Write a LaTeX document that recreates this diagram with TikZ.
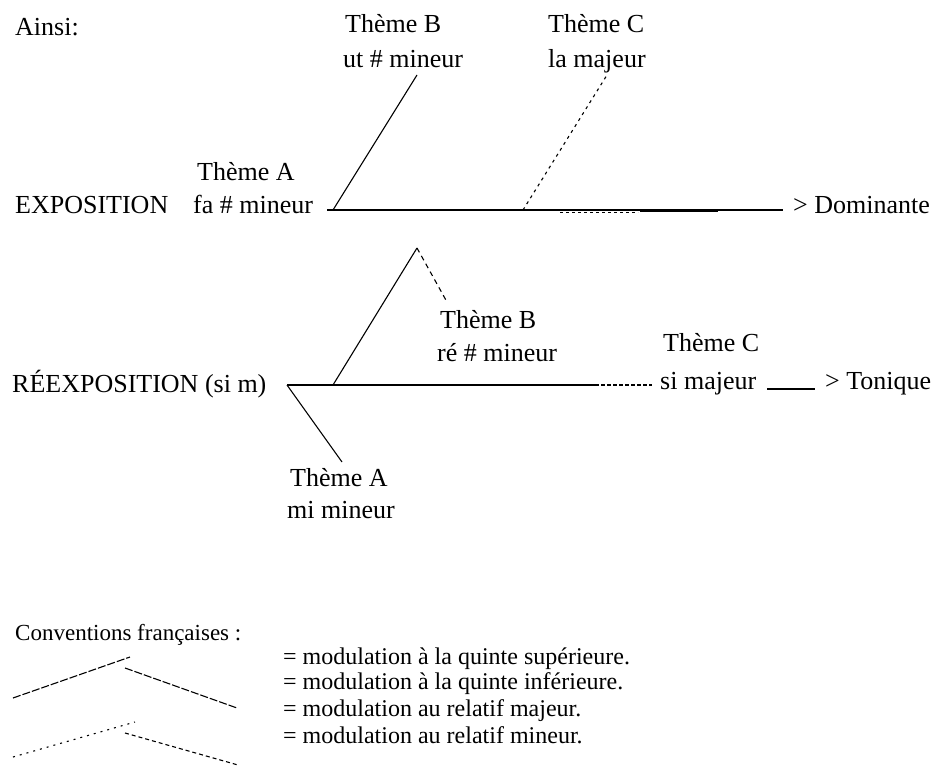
\documentclass[tikz,border=0pt]{standalone}
\usepackage{fontspec}
\setmainfont{Liberation Serif}
\usepackage{tikz}

\tikzset{
    lbl/.style={anchor=base west,inner sep=0pt},
    modline/.style={line width=1.1pt},
    relline/.style={line width=1.1pt,dash pattern=on 3pt off 4pt},
    legfont/.style={font=\fontsize{24}{26}\selectfont},
}

\begin{document}
\begin{tikzpicture}[x=1pt,y=-1pt,font=\fontsize{26}{30}\selectfont]
        \useasboundingbox (0,0) rectangle (935,776);
        % exposition
        \node (ainsi) at (15,36)[lbl]{Ainsi:};
        \node (expo) at (15,213)[lbl]{EXPOSITION};
        \node (themeA) at (197,180)[lbl]{Thème A};
        \node (faMin) at (193,213)[lbl]{fa \# mineur};
        \node (themeB) at (345,33)[lbl]{Thème B};
        \node (utMin) at (343,68)[lbl]{ut \# mineur};
        \node (themeC) at (548,33)[lbl]{Thème C};
        \node (laMaj) at (548,68)[lbl]{la majeur};
        \node (domin) at (793,213)[lbl]{> Dominante};
        \coordinate (e0) at (327,210);
        \coordinate (e1) at (333,210);
        \coordinate (eB) at (417,75);
        \coordinate (e2) at (523,210);
        \coordinate (eC) at (607,75);
        \coordinate (e3) at (783,210);
        \coordinate (e4) at (560,212);
        \coordinate (e5) at (638,212);
        \coordinate (e6) at (640,211);
        \coordinate (e7) at (718,211);
        \draw[modline](e0)--(e3);
        \draw[modline](e1)--(eB);
        \draw[relline](e2)--(eC);
        \draw[line width=0.9pt,dash pattern=on 3pt off 3pt](e4)--(e5);
        \draw[line width=1.9pt](e6)--(e7);
        % reexposition
        \node (reexpo) at (12,392)[lbl]{RÉEXPOSITION (si m)};
        \node (themeAr) at (290,486)[lbl]{Thème A};
        \node (miMin) at (287,518)[lbl]{mi mineur};
        \node (themeBr) at (440,328)[lbl]{Thème B};
        \node (reMin) at (437,361)[lbl]{ré \# mineur};
        \node (themeCr) at (663,351)[lbl]{Thème C};
        \node (siMaj) at (660,389)[lbl]{si majeur};
        \node (toniq) at (825,389)[lbl]{> Tonique};
        \coordinate (r0) at (287,385);
        \coordinate (rA) at (342,462);
        \coordinate (r1) at (333,385);
        \coordinate (rP) at (417,248);
        \coordinate (rB) at (447,302);
        \coordinate (r3) at (595,385);
        \coordinate (r2) at (652,385);
        \coordinate (t0) at (767,389);
        \coordinate (t1) at (815,389);
        \draw[modline](r0)--(r3);
        \draw[line width=1.4pt,dash pattern=on 4pt off 2pt](r3)--(r2);
        \draw[modline](r0)--(rA);
        \draw[modline](r1)--(rP);
        \draw[modline,dash pattern=on 5pt off 4pt](rP)--(rB);
        \draw[modline](t0)--(t1);
        % conventions
        \node (conv) at (15,640)[lbl,font=\fontsize{23}{26}\selectfont]{Conventions françaises :};
        \coordinate (q1) at (13,698);
        \coordinate (q2) at (130,657);
        \coordinate (q3) at (125,668);
        \coordinate (q4) at (237,708);
        \coordinate (m1) at (13,757);
        \coordinate (m2) at (135,722);
        \coordinate (m3) at (125,733);
        \coordinate (m4) at (238,765);
        \draw[modline,dash pattern=on 8pt off 2pt](q1)--(q2);
        \draw[modline,dash pattern=on 8pt off 2pt](q3)--(q4);
        \draw[relline,dash pattern=on 2pt off 5pt](m1)--(m2);
        \draw[modline,dash pattern=on 4pt off 3pt](m3)--(m4);
        \node (leg1) at (283,664)[lbl,legfont]{= modulation à la quinte supérieure.};
        \node (leg2) at (283,689)[lbl,legfont]{= modulation à la quinte inférieure.};
        \node (leg3) at (283,716)[lbl,legfont]{= modulation au relatif majeur.};
        \node (leg4) at (283,743)[lbl,legfont]{= modulation au relatif mineur.};
    \end{tikzpicture}
\end{document}
